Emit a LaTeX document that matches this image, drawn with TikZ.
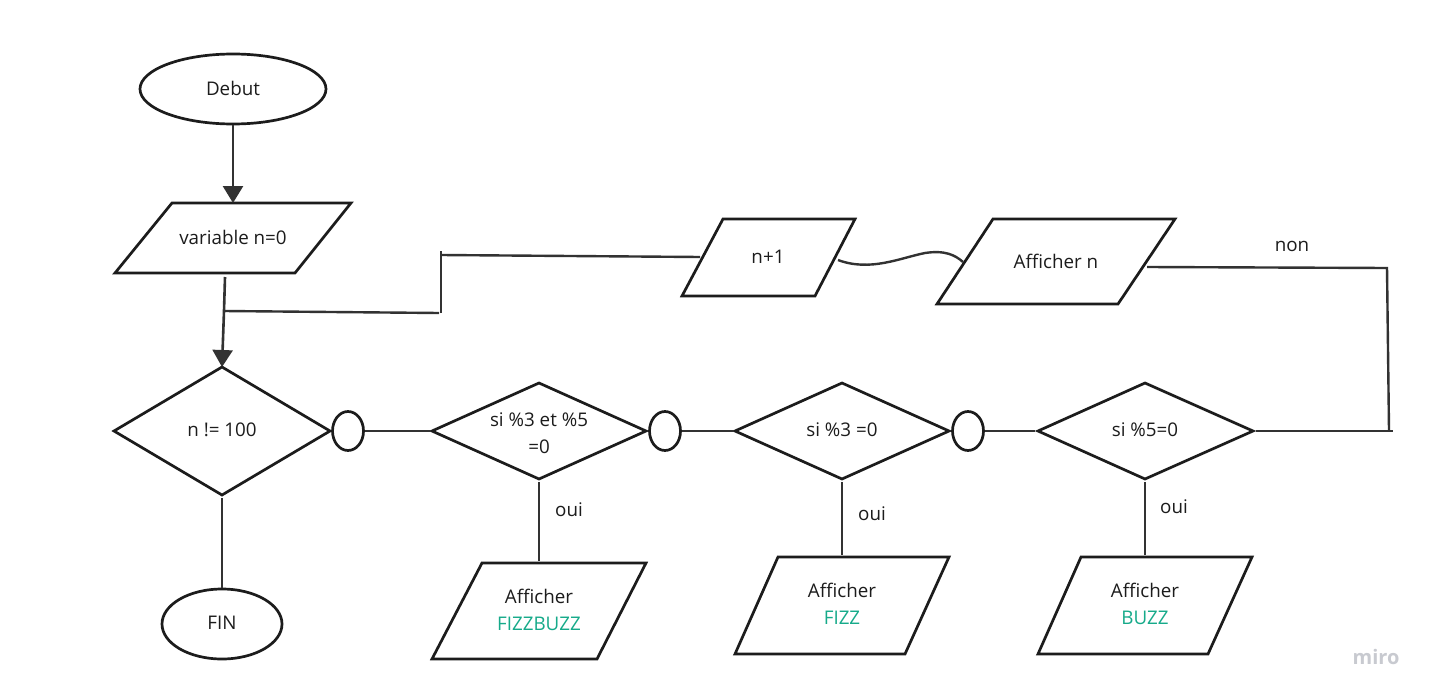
\documentclass[tikz,border=0pt]{standalone}
\usepackage{fontspec}
\setmainfont{Open Sans}
\usetikzlibrary{arrows.meta,shapes.geometric}
\definecolor{ink}{RGB}{28,28,28}
\definecolor{wire}{RGB}{50,50,50}
\definecolor{teal}{RGB}{22,170,138}
\definecolor{mirogray}{RGB}{200,202,208}
\tikzset{
  shapeline/.style={draw=ink,line width=2.7pt,line join=miter},
  wireline/.style={draw=wire,line width=2.4pt},
  arrowline/.style={draw=wire,line width=2.6pt,-{Triangle[width=20pt,length=17pt]}},
  lbl/.style={font=\fontsize{18.8}{27}\selectfont,text=ink,inner sep=0pt,align=center},
  oval/.style={shapeline,ellipse,inner sep=0pt},
  junction/.style={shapeline,ellipse,minimum width=31pt,minimum height=39pt,inner sep=0pt}
}
\begin{document}
\begin{tikzpicture}[x=1pt,y=-1pt]
\useasboundingbox[fill=white] (0,0) rectangle (1431,698);

% Debut
\node[oval,minimum width=186pt,minimum height=70pt] (debut) at (233,89) {};
\node[lbl] (debutt) at (233,88) {Debut};

% variable n=0
\draw[shapeline] (172,203) -- (351,203) -- (295,273) -- (115,273) -- cycle;
\node[lbl] (var) at (233,237) {variable n=0};
\coordinate (varbot) at (225,277);
\coordinate (vartop) at (233,203);

\draw[arrowline] (debut.south) -- (vartop);

% n != 100
\draw[shapeline] (114,431) -- (222,367) -- (330,431) -- (222,495) -- cycle;
\node[lbl] (test) at (222,430) {n != 100};
\coordinate (testtop) at (222,367);
\coordinate (testright) at (330,431);
\coordinate (testbot) at (222,498);

\coordinate (merge) at (224,311);
\draw[arrowline] (varbot) -- (merge) -- (testtop);

% loop back line
\coordinate (lb1) at (439,313);
\coordinate (lb2) at (441,251);
\coordinate (lb3) at (441,255);
\draw[wireline] (merge) -- (lb1);
\draw[wireline] (441,313) -- (lb2);
\draw[wireline] (lb3) -- (700,257);

% n+1
\draw[shapeline] (723,219) -- (855,219) -- (815,296) -- (682,296) -- cycle;
\node[lbl] (inc) at (768,257) {n+1};
\coordinate (incright) at (838,260);

% Afficher n
\draw[shapeline] (993,219) -- (1175,219) -- (1118,304) -- (937,304) -- cycle;
\node[lbl] (affn) at (1056,261) {Afficher n};
\coordinate (affnleft) at (963,262);
\coordinate (affnright) at (1147,267);

\draw[wireline] (incright) .. controls (870,272) and (900,258) .. (925,253)
  .. controls (945,250) and (955,255) .. (affnleft);

% non path
\coordinate (nr1) at (1387,268);
\coordinate (nr2) at (1389,431);
\draw[wireline] (affnright) -- (nr1) -- (nr2);
\node[lbl] (non) at (1292,246) {non};

% Junctions and decisions
\node[junction] (j1) at (348,431) {};
\node[junction] (j2) at (665,431) {};
\node[junction] (j3) at (968,431) {};

\draw[shapeline] (432,431) -- (539,383) -- (646,431) -- (539,479) -- cycle;
\node[lbl] (d1) at (539,433) {si \%3 et \%5\\=0};
\draw[shapeline] (735,431) -- (842,383) -- (949,431) -- (842,479) -- cycle;
\node[lbl] (d2) at (842,430) {si \%3 =0};
\draw[shapeline] (1038,431) -- (1145,383) -- (1253,431) -- (1145,479) -- cycle;
\node[lbl] (d3) at (1145,430) {si \%5=0};

\coordinate (d1l) at (430,431);
\coordinate (d2l) at (733,431);
\coordinate (d3l) at (1035,431);
\coordinate (d3r) at (1256,431);

\draw[wireline] (j1.east) -- (d1l);
\draw[wireline] (j2.east) -- (d2l);
\draw[wireline] (j3.east) -- (d3l);
\draw[wireline] (d3r) -- (1393,431);

% FIN
\node[oval,minimum width=120pt,minimum height=70pt] (fin) at (222,624) {};
\node[lbl] (fint) at (222,623) {FIN};
\draw[wireline] (testbot) -- (fin.north);

% outputs
\draw[shapeline] (482,563) -- (646,563) -- (597,659) -- (432,659) -- cycle;
\node[lbl] (o1) at (539,610) {Afficher\\\textcolor{teal}{FIZZBUZZ}};
\draw[shapeline] (778,557) -- (949,557) -- (905,654) -- (735,654) -- cycle;
\node[lbl] (o2) at (842,604) {Afficher\\\textcolor{teal}{FIZZ}};
\draw[shapeline] (1081,557) -- (1252,557) -- (1208,654) -- (1038,654) -- cycle;
\node[lbl] (o3) at (1145,604) {Afficher\\\textcolor{teal}{BUZZ}};

\draw[wireline] (539,482) -- (539,561);
\draw[wireline] (842,482) -- (842,555);
\draw[wireline] (1145,482) -- (1145,555);
\node[lbl] (oui1) at (569,510) {oui};
\node[lbl] (oui2) at (872,514) {oui};
\node[lbl] (oui3) at (1174,507) {oui};

\node[font=\fontsize{20}{20}\selectfont\bfseries,text=mirogray,inner sep=0pt] (miro) at (1376,657) {miro};
\end{tikzpicture}
\end{document}
